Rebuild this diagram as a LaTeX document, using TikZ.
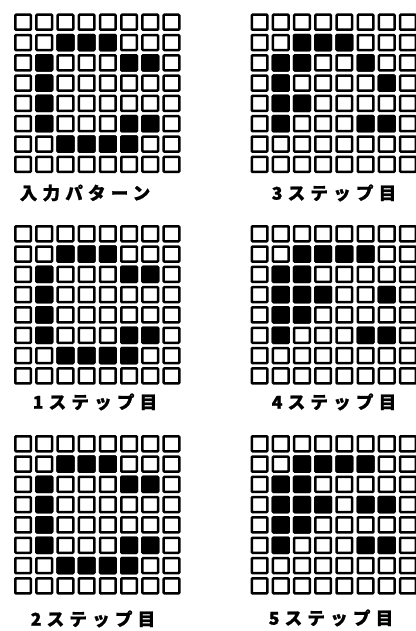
\documentclass[tikz,border=0pt]{standalone}
\usepackage{fontspec}
\newfontfamily\jp{Noto Sans CJK JP}[LetterSpace=30, BoldFeatures={FakeBold=1.2}]
\tikzset{
  cellbox/.style={draw=black, line width=2.5pt, rounded corners=0.8pt, fill=white},
  cellon/.style={draw=black, line width=2.5pt, rounded corners=0.8pt, fill=black},
  caption/.style={font=\jp\bfseries\fontsize{17.5}{19}\selectfont, inner sep=0pt, anchor=center}
}
\newcommand\drawgrid[3]{%
  \foreach \cc in {0,...,7}{%
    \foreach \rr in {0,...,7}{%
      \draw[cellbox] ({#1+1.25+\cc*21.2},{#2+1.25+\rr*20.3}) rectangle ++(15.6,15.0);
    }%
  }%
  \foreach \cc/\rr in {#3}{%
    \draw[cellon] ({#1+1.25+\cc*21.2},{#2+1.25+\rr*20.3}) rectangle ++(15.6,15.0);
  }%
}
\begin{document}
\begin{tikzpicture}[x=1pt,y=-1pt]
\useasboundingbox[fill=white] (0,0) rectangle (415,631);
% input pattern
\drawgrid{14}{13.5}{2/1,3/1,4/1,1/2,5/2,6/2,1/3,1/4,1/5,5/5,6/5,2/6,3/6,4/6,5/6}
% step 1
\drawgrid{14}{225}{2/1,3/1,4/1,1/2,5/2,6/2,1/3,1/4,1/5,5/5,6/5,2/6,3/6,4/6,5/6}
% step 2
\drawgrid{14}{435}{2/1,3/1,4/1,1/2,5/2,6/2,1/3,1/4,1/5,5/5,6/5,2/6,3/6,4/6,5/6}
% step 3
\drawgrid{250.5}{13.5}{2/1,3/1,4/1,1/2,2/2,5/2,1/3,6/3,1/4,2/4,1/5,5/5,6/5}
% step 4
\drawgrid{250.5}{225}{2/1,3/1,4/1,5/1,1/2,2/2,1/3,2/3,3/3,6/3,1/4,2/4,1/5,5/5,6/5}
% step 5
\drawgrid{250.5}{435}{2/1,3/1,4/1,5/1,1/2,2/2,1/3,2/3,3/3,5/3,6/3,1/4,2/4,1/5,5/5,6/5}
% captions
\node[caption] (l0) at (85,193) {入力パターン};
\node[caption] (l1) at (95,402) {1ステップ目};
\node[caption] (l2) at (93,619) {2ステップ目};
\node[caption] (l3) at (334,193) {3ステップ目};
\node[caption] (l4) at (334,402) {4ステップ目};
\node[caption] (l5) at (331,618) {5ステップ目};
\end{tikzpicture}
\end{document}
